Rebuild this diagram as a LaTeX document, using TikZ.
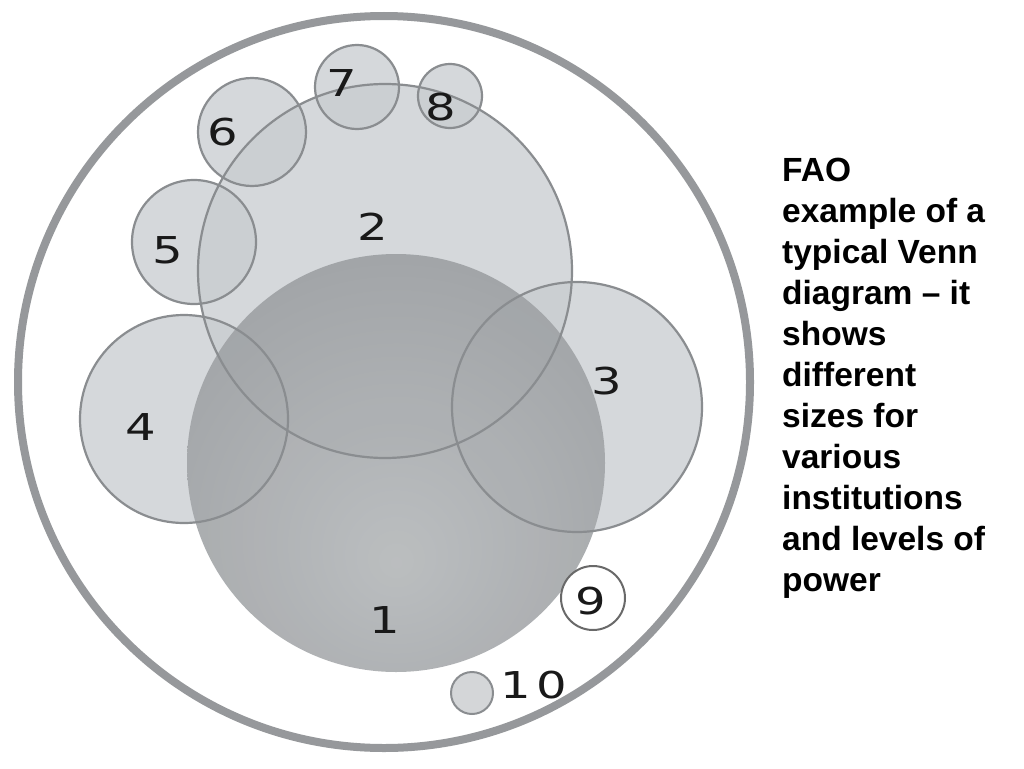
\documentclass[tikz,border=0pt]{standalone}
\usepackage{fontspec}
\usepackage{graphicx}
\setmainfont{Liberation Sans}
\newfontfamily\digitfont{DejaVu Sans}
\definecolor{ringc}{RGB}{150,152,155}
\definecolor{edgec}{RGB}{138,141,144}
\definecolor{lightc}{RGB}{200,204,208}
\definecolor{cin}{RGB}{182,185,187}
\definecolor{cmid}{RGB}{160,163,166}
\definecolor{cout}{RGB}{132,136,139}
\definecolor{ninec}{RGB}{105,105,105}
\definecolor{tenc}{RGB}{212,214,216}
\pgfdeclareradialshading{sphere}{\pgfpoint{0bp}{-12bp}}{color(0bp)=(cin); color(30bp)=(cmid); color(58bp)=(cout); color(70bp)=(cout)}
\tikzset{
  lightcirc/.style={fill=lightc, fill opacity=0.75, draw=none},
  circedge/.style={draw=edgec, line width=2.2pt},
  digit/.style={font=\digitfont\fontsize{37}{37}\selectfont, inner sep=0pt, text=black!90},
  caption/.style={font=\bfseries\fontsize{33.5}{41}\selectfont, align=left, inner sep=0pt, anchor=base west}
}
\begin{document}
\begin{tikzpicture}[x=1pt,y=-1pt]
\useasboundingbox (0,0) rectangle (1024,768);
\fill[white] (0,0) rectangle (1024,768);
% outer ring
\draw[ringc, line width=8pt] (384,382) circle (366);
% light circle fills
\foreach \cx/\cy/\r in {385/271/187, 577/407/125, 184/419/104, 194/242/62, 252/132/54, 357/87/42, 450/96/32}
  \fill[lightcirc] (\cx,\cy) circle (\r);
% big sphere
\shade[shading=sphere, opacity=0.93] (396,463) circle (209);
% outlines
\foreach \cx/\cy/\r in {385/271/187, 577/407/125, 184/419/104, 194/242/62, 252/132/54, 357/87/42, 450/96/32}
  \draw[circedge] (\cx,\cy) circle (\r);
% 9 and 10
\draw[fill=white, draw=ninec, line width=2pt] (593,598) circle (32);
\draw[fill=tenc, draw=edgec, line width=2pt] (472,693) circle (21);
% labels
\node[digit] (l1) at (385,620) {\scalebox{1.3}[1]{1}};
\node[digit] (l2) at (373,227) {\scalebox{1.3}[1]{2}};
\node[digit] (l3) at (607,381) {\scalebox{1.3}[1]{3}};
\node[digit] (l4) at (141,427) {\scalebox{1.3}[1]{4}};
\node[digit] (l5) at (168,250) {\scalebox{1.3}[1]{5}};
\node[digit] (l6) at (223,132) {\scalebox{1.3}[1]{6}};
\node[digit] (l7) at (342,83) {\scalebox{1.3}[1]{7}};
\node[digit] (l8) at (441,107) {\scalebox{1.3}[1]{8}};
\node[digit] (l9) at (591,601) {\scalebox{1.3}[1]{9}};
\node[digit] (l10) at (534,685) {\scalebox{1.3}[1]{1\hspace{4pt}0}};
% caption
\node[caption] (cap) at (782,591) {FAO\\example of a\\typical Venn\\diagram – it\\shows\\different\\sizes for\\various\\institutions\\and levels of\\power};
\end{tikzpicture}
\end{document}
